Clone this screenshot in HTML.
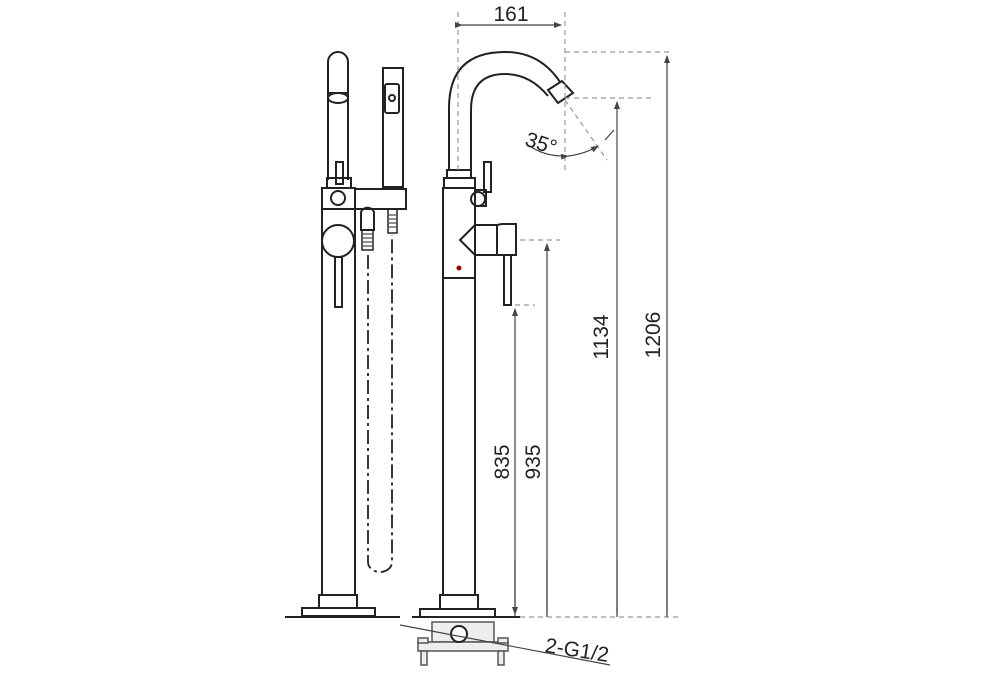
<!DOCTYPE html>
<html><head><style>html,body{margin:0;padding:0;background:#fff}svg{display:block}</style></head>
<body>
<svg width="990" height="675" viewBox="0 0 990 675" xmlns="http://www.w3.org/2000/svg" font-family="Liberation Sans, sans-serif">
<defs>
<marker id="a" markerWidth="8" markerHeight="6" refX="7" refY="3" orient="auto" markerUnits="userSpaceOnUse"><path d="M0,0 L8,3 L0,6 z" fill="#444"/></marker>
</defs>
<g fill="none" stroke="#222" stroke-width="2">
<path d="M328,180 V62 A10,10 0 0 1 348,62 V180"/>
<ellipse cx="338" cy="98" rx="10" ry="5"/>
<path d="M328,93 H348"/>
<rect x="336" y="162" width="7" height="22"/>
<rect x="327" y="178" width="24" height="10"/>
<rect x="322" y="188" width="33" height="21"/>
<rect x="355" y="189" width="51" height="20"/>
<circle cx="338" cy="198" r="7"/>
<path d="M322,209 V595 M355,209 V595"/>
<circle cx="338" cy="241" r="16"/>
<rect x="335" y="257" width="7" height="50"/>
<rect x="383" y="68" width="20" height="119"/>
<rect x="385" y="84" width="14" height="29" rx="2"/>
<circle cx="392" cy="98" r="3"/>
<path d="M361,230 V212 A7,7 0 0 1 374,212 V230 Z"/>
<rect x="362" y="230" width="11" height="20" stroke-width="1.5"/>
<path d="M363,234 h9 M363,238 h9 M363,242 h9 M363,246 h9" stroke-width="1"/>
<rect x="388" y="209" width="9" height="24" stroke-width="1.5"/>
<path d="M389,215 h7 M389,219 h7 M389,223 h7 M389,227 h7" stroke-width="1"/>
<path d="M368,255 V562 A12,10 0 0 0 392,562 V235" stroke-dasharray="14,4,3,4" stroke-width="1.8"/>
<rect x="319" y="595" width="38" height="13"/>
<rect x="302" y="608" width="73" height="8"/>
<path d="M285,617 H400"/>
<path d="M449,170 V108 Q449,52 505,52 Q540,52 560,82"/>
<path d="M471,170 V110 Q471,74 505,74 Q530,74 548,96"/>
<path d="M548,90 L562,81 L573,93 L558,103 Z"/>
<rect x="447" y="170" width="24" height="8"/>
<rect x="444" y="178" width="31" height="10"/>
<rect x="443" y="188" width="32" height="90"/>
<rect x="443" y="278" width="32" height="317"/>
<rect x="484" y="162" width="7" height="30"/>
<circle cx="478" cy="199" r="7"/>
<path d="M475,190 H486 V206 H475"/>
<path d="M475,225 H497 V255 H475 L460,240 Z"/>
<path d="M497,225 L502,224 H516 V255 H497 Z"/>
<rect x="504" y="255" width="7" height="50"/>
<circle cx="459" cy="268" r="1.5" fill="#a00" stroke="#a00"/>
<rect x="440" y="595" width="38" height="14"/>
<rect x="420" y="609" width="75" height="8"/>
<path d="M412,617 H520"/>
</g>
<g fill="#eee" stroke="#555" stroke-width="1.5">
<rect x="432" y="622" width="62" height="20"/>
<rect x="418" y="642" width="90" height="9"/>
<rect x="421" y="651" width="6" height="14"/>
<rect x="498" y="651" width="6" height="14"/>
<rect x="418" y="638" width="10" height="5"/>
<rect x="498" y="638" width="10" height="5"/>
<circle cx="459" cy="634" r="8" fill="#fff" stroke="#222" stroke-width="2"/>
</g>
<g stroke="#444" stroke-width="1.2" fill="none">
<path d="M400,625 L610,665"/>
<g stroke="#999" stroke-dasharray="5,4">
<path d="M458,12 V170 M565,12 V170"/>
<path d="M565,52 H670 M565,98 H652 M520,240 H560 M515,305 H535 M520,617 H680"/>
<path d="M565,100 L607,160"/>
</g>
<path d="M462,25 H561" marker-start="url(#a)" marker-end="url(#a)"/>
<path d="M667,617 V56" marker-end="url(#a)"/>
<path d="M617,617 V102" marker-end="url(#a)"/>
<path d="M547,617 V244" marker-end="url(#a)"/>
<path d="M515,617 V309" marker-end="url(#a)"/>
<path d="M667,560 V614 M617,560 V614 M547,560 V614 M515,560 V614" marker-end="url(#a)"/>
<path d="M528,145 Q545,157 567,156" />
<path d="M568,156 Q585,154 598,146" marker-start="url(#a)" marker-end="url(#a)"/>
<path d="M605,140 L614,130"/>
</g>
<g fill="#222" font-size="21">
<text x="511" y="21" text-anchor="middle">161</text>
<text transform="translate(539,150) rotate(18)" text-anchor="middle">35°</text>
<text transform="translate(509,462) rotate(-90)" text-anchor="middle">835</text>
<text transform="translate(540,462) rotate(-90)" text-anchor="middle">935</text>
<text transform="translate(608,337) rotate(-90)" text-anchor="middle">1134</text>
<text transform="translate(660,335) rotate(-90)" text-anchor="middle">1206</text>
<text transform="translate(576,657) rotate(9)" text-anchor="middle">2-G1/2</text>
</g>
</svg>
</body></html>
